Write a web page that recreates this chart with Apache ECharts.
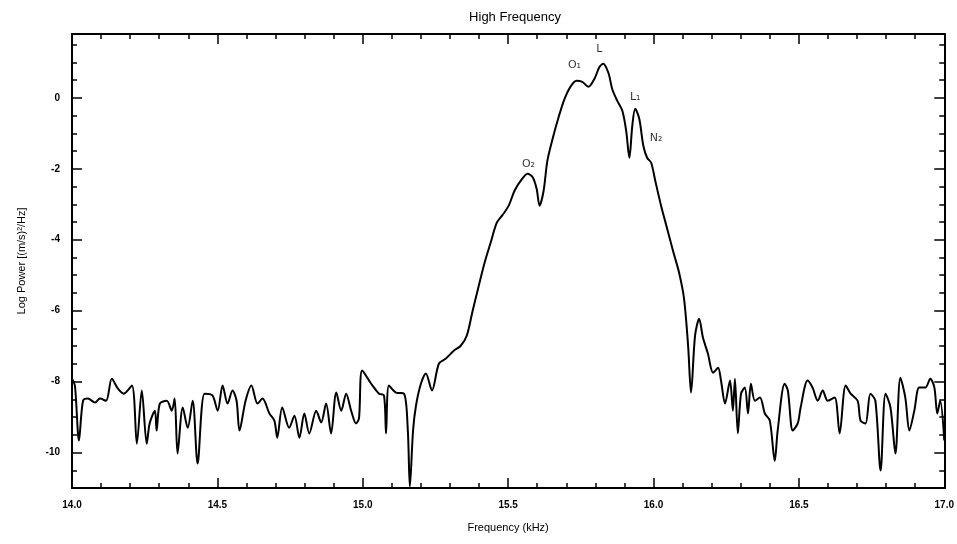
<!DOCTYPE html>
<html>
<head>
<meta charset="utf-8">
<script src="https://cdn.jsdelivr.net/npm/echarts@6/dist/echarts.min.js"></script>
<style>html,body{margin:0;padding:0;background:#fff}#c{width:957px;height:544px}</style>
</head>
<body>
<div id="c"></div>
<script>
const freq = [14.000,14.010,14.024,14.038,14.055,14.079,14.096,14.117,14.137,14.158,14.178,14.206,14.223,14.240,14.257,14.267,14.285,14.291,14.302,14.326,14.343,14.353,14.363,14.381,14.398,14.415,14.432,14.456,14.483,14.501,14.518,14.535,14.552,14.566,14.576,14.597,14.617,14.638,14.655,14.679,14.696,14.706,14.723,14.747,14.765,14.782,14.799,14.816,14.840,14.857,14.874,14.891,14.909,14.926,14.943,14.960,14.977,14.987,14.998,15.029,15.056,15.073,15.080,15.090,15.114,15.142,15.155,15.162,15.173,15.183,15.200,15.217,15.238,15.262,15.286,15.313,15.337,15.358,15.378,15.399,15.419,15.440,15.461,15.481,15.502,15.522,15.543,15.567,15.584,15.598,15.608,15.622,15.635,15.653,15.673,15.694,15.714,15.735,15.755,15.776,15.797,15.814,15.827,15.845,15.858,15.875,15.893,15.906,15.917,15.927,15.937,15.951,15.965,15.978,15.992,16.006,16.026,16.047,16.067,16.088,16.105,16.119,16.129,16.143,16.157,16.170,16.187,16.205,16.222,16.232,16.246,16.263,16.273,16.280,16.290,16.301,16.314,16.325,16.335,16.349,16.366,16.383,16.400,16.417,16.427,16.451,16.462,16.479,16.496,16.506,16.530,16.547,16.565,16.582,16.599,16.623,16.640,16.661,16.678,16.702,16.712,16.729,16.746,16.763,16.781,16.798,16.815,16.832,16.849,16.866,16.880,16.897,16.914,16.935,16.952,16.966,16.976,16.986,17.000];
const logPower = [-7.92,-8.11,-9.66,-8.54,-8.48,-8.59,-8.48,-8.54,-7.92,-8.20,-8.34,-8.11,-9.75,-8.25,-9.75,-9.18,-8.82,-9.38,-8.62,-8.54,-8.82,-8.48,-10.03,-8.73,-9.30,-8.54,-10.31,-8.34,-8.39,-8.82,-8.11,-8.62,-8.25,-8.54,-9.38,-8.54,-8.11,-8.62,-8.48,-8.90,-9.10,-9.58,-8.73,-9.30,-8.96,-9.58,-8.90,-9.46,-8.82,-9.15,-8.62,-9.46,-8.31,-8.82,-8.34,-8.82,-9.18,-9.04,-7.69,-8.06,-8.34,-8.39,-9.46,-8.11,-8.31,-8.34,-9.38,-10.96,-9.38,-8.68,-8.06,-7.77,-8.25,-7.49,-7.35,-7.13,-6.99,-6.70,-6.00,-5.30,-4.65,-4.08,-3.52,-3.30,-3.04,-2.62,-2.34,-2.14,-2.23,-2.56,-3.04,-2.62,-1.77,-1.15,-0.56,-0.03,0.31,0.48,0.45,0.31,0.54,0.87,0.96,0.70,0.25,-0.08,-0.37,-0.93,-1.69,-0.79,-0.31,-0.59,-1.35,-1.69,-1.83,-2.34,-3.04,-3.69,-4.31,-4.93,-5.66,-6.99,-8.31,-6.70,-6.23,-6.76,-7.21,-7.75,-7.61,-7.97,-8.62,-7.97,-8.82,-7.92,-9.46,-8.34,-8.17,-8.90,-8.06,-8.54,-8.45,-8.90,-9.10,-10.23,-9.38,-8.06,-8.25,-9.38,-9.18,-8.73,-7.97,-8.17,-8.54,-8.25,-8.54,-8.45,-9.46,-8.11,-8.34,-8.54,-9.10,-9.18,-8.34,-8.54,-10.51,-8.34,-8.73,-10.03,-7.89,-8.45,-9.38,-8.82,-8.17,-8.17,-7.92,-8.17,-8.90,-8.54,-9.66];
const peakNames = ['O₂','O₁','L','L₁','N₂'];
const peakFreq = [15.570,15.728,15.814,15.937,16.009];
const peakVal = [-1.86,0.93,1.38,0.03,-1.15];
const yMajorTicks = [0,-2,-4,-6,-8,-10];

const chart = echarts.init(document.getElementById('c'), null, {renderer:'canvas'});
const FONT = 'Liberation Sans';
const axisLine = {show:true, onZero:false, lineStyle:{color:'#000', width:2}};
const xBase = {
  type:'value', min:14, max:17, interval:0.5,
  axisLine, splitLine:{show:false},
  axisTick:{show:true, inside:true, length:10, lineStyle:{color:'#000', width:1.5}},
  minorTick:{show:true, splitNumber:5, length:5, lineStyle:{color:'#000', width:1.5}}
};
const yRange = {type:'value', min:-11, max:1.8, splitLine:{show:false}, axisLine};
chart.setOption({
  animation:false,
  backgroundColor:'#fff',
  title:{text:'High Frequency', left:510, top:6, textAlign:'center',
    textStyle:{fontFamily:FONT, fontSize:13, fontWeight:'normal', color:'#000'}},
  grid:{left:72, right:10, top:34, bottom:56},
  xAxis:[
    Object.assign({}, xBase, {position:'bottom', name:'Frequency (kHz)', nameLocation:'middle', nameGap:34,
      nameTextStyle:{fontFamily:FONT, fontSize:11, color:'#000'},
      axisLabel:{show:true, margin:12, color:'#000', fontFamily:FONT, fontSize:10, fontWeight:'bold', formatter:v=>v.toFixed(1)}}),
    Object.assign({}, xBase, {position:'top', axisLabel:{show:false}})
  ],
  yAxis:[
    Object.assign({}, yRange, {position:'left', name:'Log Power [(m/s)²/Hz]', nameLocation:'middle', nameGap:45,
      nameTextStyle:{fontFamily:FONT, fontSize:11, color:'#000'},
      axisTick:{show:true, inside:true, length:10, customValues:yMajorTicks, lineStyle:{color:'#000', width:1.5}},
      axisLabel:{show:true, margin:12, customValues:yMajorTicks, color:'#000', fontFamily:FONT, fontSize:10, fontWeight:'bold', formatter:v=>String(v)}}),
    Object.assign({}, yRange, {position:'left', interval:0.5,
      axisTick:{show:true, inside:true, length:5, lineStyle:{color:'#000', width:1.5}}, axisLabel:{show:false}}),
    Object.assign({}, yRange, {position:'right',
      axisTick:{show:true, inside:true, length:10, customValues:yMajorTicks, lineStyle:{color:'#000', width:1.5}},
      axisLabel:{show:false}}),
    Object.assign({}, yRange, {position:'right', interval:0.5,
      axisTick:{show:true, inside:true, length:5, lineStyle:{color:'#000', width:1.5}}, axisLabel:{show:false}})
  ],
  series:[
    {type:'line', xAxisIndex:0, yAxisIndex:0, data:freq.map((f,i)=>[f, logPower[i]]),
      symbol:'none', smooth:0.3, lineStyle:{color:'#000', width:2}, clip:true},
    {type:'scatter', xAxisIndex:0, yAxisIndex:0, symbolSize:0,
      data:peakFreq.map((f,i)=>({value:[f, peakVal[i]], name:peakNames[i]})),
      label:{show:true, position:'inside', formatter:p=>p.name, color:'#000', fontFamily:'DejaVu Sans', fontSize:11}}
  ]
});
</script>
</body>
</html>
